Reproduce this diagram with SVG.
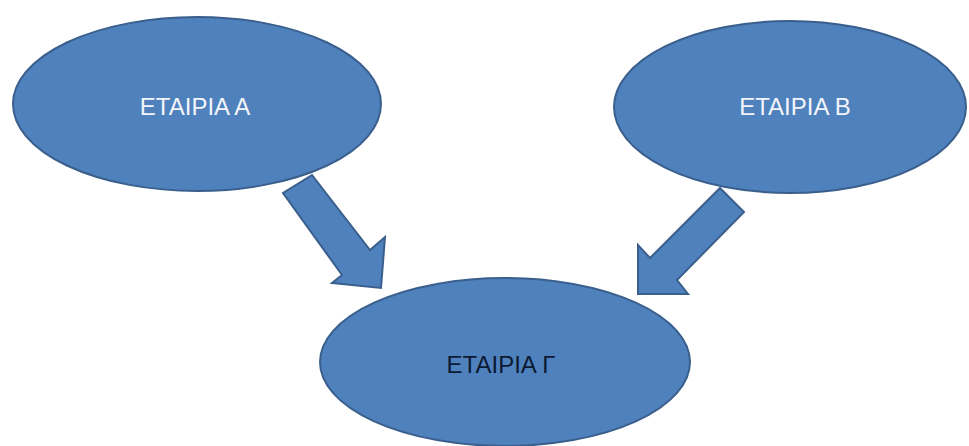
<svg xmlns="http://www.w3.org/2000/svg" width="969" height="446" viewBox="0 0 969 446">
<style>
.shape{fill:#4f81bd;stroke:#3a5f8c;stroke-width:2}
.lbl{font-family:"Liberation Sans","DejaVu Sans",sans-serif;font-size:24px;text-anchor:middle}
.light{fill:#f2f5fa}
.dark{fill:#0c1a33}
</style>
<rect width="969" height="446" fill="#ffffff"/>
<g id="connectors">
<polygon class="shape" points="312,175 370,250 385,237 381,288 332,283 342,275 283,193"/>
<polygon class="shape" points="720,188 744,212 677,280 688,294 638,294 638,245 650,258"/>
</g>
<g id="node-a">
<ellipse class="shape" cx="197" cy="104" rx="184" ry="87"/>
<text class="lbl light" x="195" y="115">ΕΤΑΙΡΙΑ Α</text>
</g>
<g id="node-b">
<ellipse class="shape" cx="790" cy="107" rx="176" ry="86"/>
<text class="lbl light" x="795" y="115">ΕΤΑΙΡΙΑ Β</text>
</g>
<g id="node-c">
<ellipse class="shape" cx="505" cy="362" rx="185" ry="84"/>
<text class="lbl dark" x="501" y="373">ΕΤΑΙΡΙΑ Γ</text>
</g>
</svg>
